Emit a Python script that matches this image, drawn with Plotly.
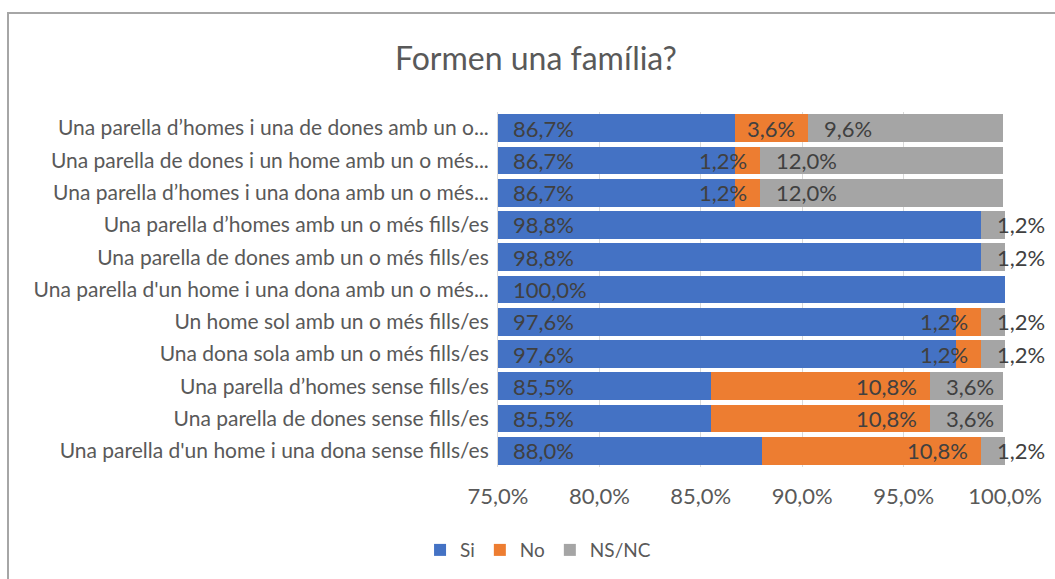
import plotly.graph_objects as go

categories = [
    "Una parella d’homes i una de dones amb un o...",
    "Una parella de dones i un home amb un o més...",
    "Una parella d’homes i una dona amb un o més...",
    "Una parella d’homes amb un o més fills/es",
    "Una parella de dones amb un o més fills/es",
    "Una parella d'un home i una dona amb un o més...",
    "Un home sol amb un o més fills/es",
    "Una dona sola amb un o més fills/es",
    "Una parella d’homes sense fills/es",
    "Una parella de dones sense fills/es",
    "Una parella d'un home i una dona sense fills/es",
]
si = [86.7, 86.7, 86.7, 98.8, 98.8, 100.0, 97.6, 97.6, 85.5, 85.5, 88.0]
no = [3.6, 1.2, 1.2, 0.0, 0.0, 0.0, 1.2, 1.2, 10.8, 10.8, 10.8]
nsnc = [9.6, 12.0, 12.0, 1.2, 1.2, 0.0, 1.2, 1.2, 3.6, 3.6, 1.2]

series_names = ["Si", "No", "NS/NC"]
colors = ["#4472C4", "#ED7D31", "#A5A5A5"]
tick_vals = [75, 80, 85, 90, 95, 100]
tick_text = ["75,0%", "80,0%", "85,0%", "90,0%", "95,0%", "100,0%"]
title_text = "Formen una família?"

FONT = "Lato, 'Open Sans', sans-serif"
TXT = "#404040"
AX = "#595959"
LBL = 22

fig = go.Figure()
for name, vals, col in zip(series_names, [si, no, nsnc], colors):
    fig.add_trace(go.Bar(
        y=categories, x=vals, name=name, orientation="h",
        marker=dict(color=col, line=dict(width=0)),
        hoverinfo="x+y+name",
    ))

def fmt(v):
    return f"{v:.1f}".replace(".", ",") + "%"

ann = []
xmin = tick_vals[0]
lfont = dict(family=FONT, size=LBL, color=TXT)
for c, a, b, d in zip(categories, si, no, nsnc):
    if a > 0:
        ann.append(dict(x=xmin, y=c, xref="x", yref="y", text=fmt(a), showarrow=False,
                        xanchor="left", xshift=13, font=lfont))
    if b > 0:
        ann.append(dict(x=a + b, y=c, xref="x", yref="y", text=fmt(b), showarrow=False,
                        xanchor="right", xshift=-11, font=lfont))
    if d > 0:
        ann.append(dict(x=a + b, y=c, xref="x", yref="y", text=fmt(d), showarrow=False,
                        xanchor="left", xshift=14, font=lfont))

W, H = 1055, 579
ml, mr, mt, mb = 498, 50, 112, 112
pw, ph = W - ml - mr, H - mt - mb
def px(x):
    return (x - ml) / pw
def py(y):
    return (H - mb - y) / ph

fig.update_layout(
    width=W, height=H,
    barmode="stack", bargap=0.14,
    margin=dict(l=ml, r=mr, t=mt, b=mb),
    paper_bgcolor="white", plot_bgcolor="white",
    font=dict(family=FONT, size=21, color=AX),
    title=dict(text=title_text, x=0.508, xref="container", xanchor="center",
               y=0.898, yref="container", yanchor="middle",
               font=dict(family=FONT, size=32, color=AX)),
    xaxis=dict(range=[75, 100], tickvals=tick_vals, ticktext=tick_text,
               showgrid=True, gridcolor="#D9D9D9", gridwidth=1, zeroline=False,
               showline=False, ticks="", ticklabelstandoff=14,
               tickfont=dict(family=FONT, size=22, color=AX),
               fixedrange=True),
    yaxis=dict(autorange="reversed", showgrid=False, showline=True, linecolor="#D9D9D9",
               ticks="", ticklabelstandoff=4,
               tickfont=dict(family=FONT, size=21, color=AX)),
    legend=dict(orientation="h", x=0.51, xref="container", xanchor="center",
                y=0.05, yref="container", yanchor="middle",
                font=dict(family=FONT, size=19, color=AX), traceorder="normal",
                itemwidth=30, itemsizing="constant"),
    annotations=ann,
    shapes=[dict(type="rect", xref="paper", yref="paper",
                 x0=px(8), x1=px(1070), y0=py(600), y1=py(13),
                 line=dict(color="#A6A6A6", width=2), fillcolor="rgba(0,0,0,0)", layer="below")],
)

fig.write_html("out.html", config={"displayModeBar": False},
               post_script="document.body.style.margin='0';document.body.style.overflow='hidden';")
